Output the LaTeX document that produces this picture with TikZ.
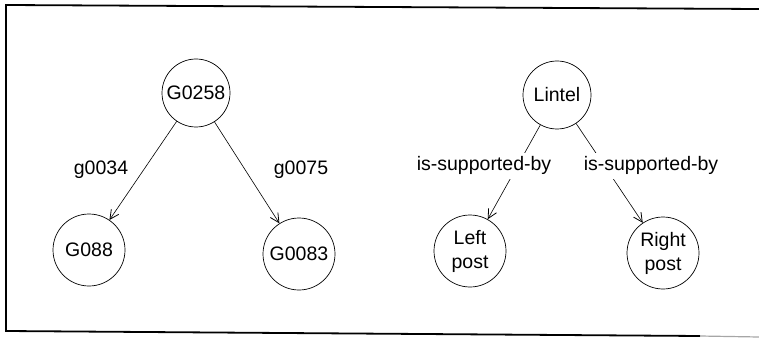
\documentclass[tikz,border=0pt]{standalone}
\usepackage{fontspec}
\setmainfont{Liberation Sans}
\usetikzlibrary{arrows.meta}
\begin{document}
\begin{tikzpicture}[x=1pt,y=-1pt,
  entity/.style={draw, circle, line width=0.7pt, inner sep=0pt, minimum size=72pt,
                 font=\fontsize{19.5}{24}\selectfont, align=center},
  topent/.style={entity, minimum size=68pt},
  rel/.style={-{Straight Barb[length=9pt,width=9pt,line width=0.8pt]}, line width=0.6pt},
  lbl/.style={font=\fontsize{19.5}{24}\selectfont, inner sep=0pt, anchor=base},
  cutlbl/.style={lbl, fill=white, inner ysep=4pt, inner xsep=1pt}]
\useasboundingbox (0,0) rectangle (759,339);

% frame
\draw[line width=1.8pt] (759,9) -- (6,5) -- (6,331) -- (700,336);
\draw[line width=1.2pt, black!35] (700,336) -- (759,337);

% left graph
\node[topent] (g258) at (196,93) {G0258};
\node[entity] (g88) at (89,250) {G088};
\node[entity] (g83) at (299,254) {G0083};
\draw[rel] (g258) -- (g88);
\draw[rel] (g258) -- (g83);
\node[lbl] (l34) at (101,174) {g0034};
\node[lbl] (l75) at (301,174) {g0075};

% right graph
\node[topent] (lintel) at (557,95) {Lintel};
\node[entity] (lpost) at (470,251) {Left\\post};
\node[entity] (rpost) at (663,253) {Right\\post};
\draw[rel] (lintel) -- (lpost);
\draw[rel] (lintel) -- (rpost);
\node[cutlbl] (sup1) at (484,171) {is-supported-by};
\node[cutlbl] (sup2) at (651,171) {is-supported-by};
\end{tikzpicture}
\end{document}
